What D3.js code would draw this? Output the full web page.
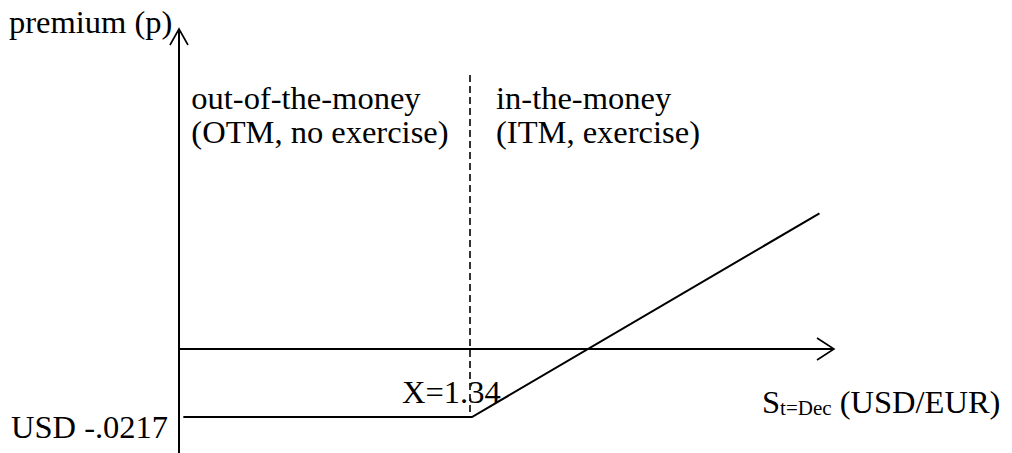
<!DOCTYPE html>
<html><head><meta charset="utf-8">
<script src="https://cdn.jsdelivr.net/npm/d3@7"></script>
<style>
html,body{margin:0;padding:0;background:#fff;}
svg{display:block;}
text{font-family:"Liberation Serif","Times New Roman",serif;fill:#000;}
</style></head>
<body>
<svg id="chart" width="1012" height="453"></svg>
<script>
// Data
const strike = 1.34;
const premium = -0.0217;
const spot = [1.286, 1.34, 1.405];
const payoff = [-0.0217, -0.0217, 0.0433];
const yAxisLabel = "premium (p)";
const premiumLabel = "USD -.0217";
const strikeLabel = "X=1.34";
const regionLabels = [
  {s: 1.2875, lines: ["out-of-the-money", "(OTM, no exercise)"]},
  {s: 1.3445, lines: ["in-the-money", "(ITM, exercise)"]}
];

const svg = d3.select("#chart");
const x = d3.scaleLinear().domain([1.34, 1.3617]).range([472, 588]);
const y = d3.scaleLinear().domain([premium, 0]).range([417, 349]);

const axX = 179, axTop = 29, axBottom = 453, axRight = 834;
const y0 = y(0);

const g = svg.append("g").attr("stroke", "#000").attr("fill", "none");
// y axis
g.append("line").attr("x1", axX).attr("x2", axX).attr("y1", axBottom).attr("y2", axTop).attr("stroke-width", 2);
g.append("path").attr("d", `M${axX-9},${axTop+16}L${axX},${axTop}L${axX+9},${axTop+16}`).attr("stroke-width", 1.6);
// x axis
g.append("line").attr("x1", axX).attr("x2", axRight).attr("y1", y0).attr("y2", y0).attr("stroke-width", 2);
g.append("path").attr("d", `M${axRight-17},${y0-11}L${axRight},${y0}L${axRight-17},${y0+11}`).attr("stroke-width", 1.6);

// dashed strike line
g.append("line").attr("x1", x(strike)-2).attr("x2", x(strike)-2).attr("y1", 75).attr("y2", y(premium))
  .attr("stroke-width", 1.6).attr("stroke-dasharray", "7,4");

// payoff line
const line = d3.line().x(d => x(d[0])).y(d => y(d[1]));
g.append("path").datum(spot.map((s, i) => [s, payoff[i]])).attr("d", line).attr("stroke-width", 2);

const fs = 32.5;
svg.append("text").attr("x", 9).attr("y", 33).attr("font-size", fs).text(yAxisLabel);
svg.append("text").attr("x", 11).attr("y", 438).attr("font-size", fs).text(premiumLabel);
svg.append("text").attr("x", 402).attr("y", 403).attr("font-size", fs).text(strikeLabel);

regionLabels.forEach(r => {
  r.lines.forEach((t, i) => {
    svg.append("text").attr("x", x(r.s)).attr("y", 109 + i * 34).attr("font-size", fs).text(t);
  });
});

const xl = svg.append("text").attr("x", 762).attr("y", 413).attr("font-size", fs);
xl.append("tspan").text("S");
xl.append("tspan").attr("font-size", 21).attr("dy", 2).text("t=Dec");
xl.append("tspan").attr("dy", -2).text(" (USD/EUR)");
</script>
</body></html>
